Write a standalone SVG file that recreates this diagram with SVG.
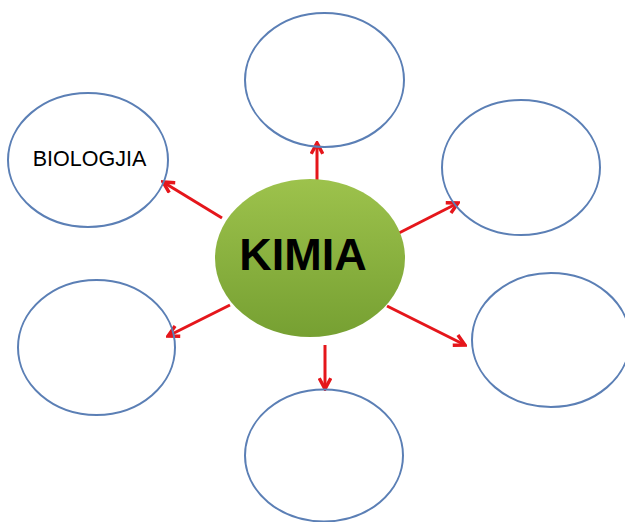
<svg xmlns="http://www.w3.org/2000/svg" width="625" height="522" viewBox="0 0 625 522">
<defs>
<style>
.n{fill:none;stroke:#5b7fb5;stroke-width:2}
.c{stroke:#e5161b;stroke-width:3;fill:none;marker-end:url(#ah)}
.t{font-family:"Liberation Sans",Arial,sans-serif;fill:#000}
</style>
<linearGradient id="g" x1="0" y1="0" x2="0" y2="1">
<stop offset="0" stop-color="#9dc24c"/>
<stop offset="1" stop-color="#76a032"/>
</linearGradient>
<marker id="ah" viewBox="0 0 10 10" refX="8.5" refY="5" markerWidth="4.8" markerHeight="4.8" orient="auto" markerUnits="strokeWidth">
<path d="M1,1 L8.5,5 L1,9" fill="none" stroke="#e5161b" stroke-width="2.4" stroke-linejoin="miter"/>
</marker>
</defs>
<rect width="625" height="522" fill="#fff"/>
<g id="connectors">
<line class="c" x1="317" y1="180" x2="317" y2="143"/>
<line class="c" x1="222" y1="218" x2="163" y2="182"/>
<line class="c" x1="397" y1="234" x2="458" y2="203"/>
<line class="c" x1="387" y1="306" x2="465" y2="345"/>
<line class="c" x1="230" y1="305" x2="168" y2="336"/>
<line class="c" x1="325" y1="345" x2="325" y2="389"/>
</g>
<g id="center">
<ellipse cx="310" cy="258" rx="95" ry="79" fill="url(#g)"/>
<text class="t" x="303" y="270" text-anchor="middle" font-size="45" font-weight="bold">KIMIA</text>
</g>
<g id="biologjia">
<ellipse class="n" cx="88" cy="160" rx="80" ry="67"/>
<text class="t" x="89.5" y="166" text-anchor="middle" font-size="21.5">BIOLOGJIA</text>
</g>
<g id="top"><ellipse class="n" cx="324.5" cy="80" rx="79.5" ry="67"/></g>
<g id="top-right"><ellipse class="n" cx="521" cy="167.5" rx="79" ry="67.5"/></g>
<g id="bottom-left"><ellipse class="n" cx="96.5" cy="347.5" rx="78.5" ry="67.5"/></g>
<g id="bottom-right"><ellipse class="n" cx="551" cy="340" rx="79" ry="67"/></g>
<g id="bottom"><ellipse class="n" cx="324" cy="455.5" rx="79" ry="66"/></g>
</svg>
